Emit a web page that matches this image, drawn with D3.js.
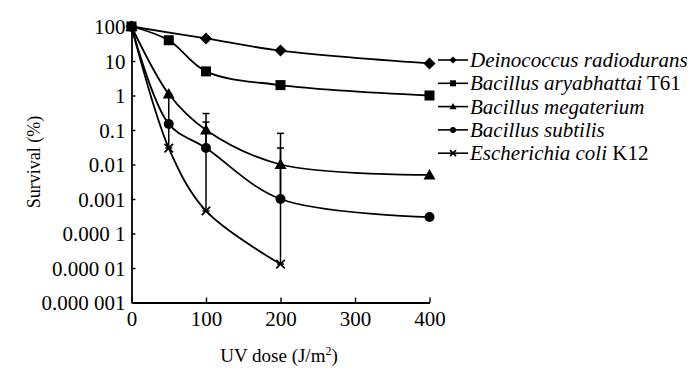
<!DOCTYPE html>
<html>
<head>
<meta charset="utf-8">
<script src="https://cdn.jsdelivr.net/npm/d3@7"></script>
<style>
  body { margin: 0; background: #fff; }
  text { font-family: "Liberation Serif", "Times New Roman", serif; fill: #000; }
</style>
</head>
<body>
<div id="chart"></div>
<script>
var width = 700,
    height = 375;

// data
var doses = [0, 50, 100, 200, 400];
var names = ["Deinococcus radiodurans", "Bacillus aryabhattai", "Bacillus megaterium", "Bacillus subtilis", "Escherichia coli"];
var suffixes = ["", " T61", "", "", " K12"];
var symbols = ["diamond", "square", "triangle", "circle", "cross"];
var deinococcus = [100, null, 45, 20, 8.5];
var aryabhattai = [100, 40, 5, 2, 1];
var megaterium = [100, 1.1, 0.1, 0.01, 0.005];
var subtilis = [100, 0.15, 0.03, 0.001, 0.0003];
var ecoli = [100, 0.03, 0.00045, 0.000013, null];
var seriesValues = [deinococcus, aryabhattai, megaterium, subtilis, ecoli];

// error bars: [dose, low, high]
var errMegaterium = [[50, 0.15, 1.1], [100, 0.00045, 0.3], [200, 0.000013, 0.08]];
var errSubtilis = [[50, 0.03, 0.15], [100, 0.03, 0.17], [200, 0.001, 0.03]];

var yTicks = [100, 10, 1, 0.1, 0.01, 0.001, 0.0001, 0.00001, 0.000001];
var yTickLabels = ["100", "10", "1", "0.1", "0.01", "0.001", "0.000 1", "0.000 01", "0.000 001"];
var xTicks = [0, 100, 200, 300, 400];

var fontSize = "21px";

var x = d3.scaleLinear().domain([0, 400]).range([131.5, 429.5]);
var y = d3.scaleLog().domain([0.000001, 100]).range([302.5, 26.5]);

var svg = d3.select("#chart").append("svg")
    .attr("width", width)
    .attr("height", height);

// axes
var xAxis = d3.axisBottom(x).tickValues(xTicks).tickSizeInner(-5).tickSizeOuter(0).tickPadding(9);
var gx = svg.append("g")
    .attr("transform", "translate(0," + y(0.000001) + ")")
    .call(xAxis);

var yAxis = d3.axisLeft(y).tickValues(yTicks)
    .tickFormat(function(d, i) { return yTickLabels[i]; })
    .tickSizeInner(-4).tickSizeOuter(0).tickPadding(6);
var gy = svg.append("g")
    .attr("transform", "translate(" + x(0) + ",0)")
    .call(yAxis);

[gx, gy].forEach(function(g) {
  g.select(".domain").attr("stroke", "#000").attr("stroke-width", 1.8);
  g.selectAll(".tick line").attr("stroke", "#000").attr("stroke-width", 1.4);
  g.selectAll(".tick text")
    .style("font-family", "'Liberation Serif', serif")
    .style("font-size", fontSize)
    .attr("fill", "#000");
});
gy.selectAll(".tick text").attr("dy", "0.34em");

// axis titles
svg.append("text")
    .attr("x", 279)
    .attr("y", 362)
    .attr("text-anchor", "middle")
    .style("font-size", "19px")
    .html("UV dose (J/m<tspan dy='-7' font-size='12px'>2</tspan><tspan dy='7'>)</tspan>");

svg.append("text")
    .attr("transform", "translate(40,162) rotate(-90)")
    .attr("text-anchor", "middle")
    .style("font-size", "18px")
    .text("Survival (%)");

// error bars
function drawErrors(errs) {
  errs.forEach(function(e) {
    svg.append("line")
      .attr("x1", x(e[0])).attr("x2", x(e[0]))
      .attr("y1", y(e[1])).attr("y2", y(e[2]))
      .attr("stroke", "#000").attr("stroke-width", 1.5);
    [e[1], e[2]].forEach(function(v) {
      svg.append("line")
        .attr("x1", x(e[0]) - 3.5).attr("x2", x(e[0]) + 3.5)
        .attr("y1", y(v)).attr("y2", y(v))
        .attr("stroke", "#000").attr("stroke-width", 1.5);
    });
  });
}
drawErrors(errMegaterium);
drawErrors(errSubtilis);

// lines
var line = d3.line()
    .x(function(d) { return x(d[0]); })
    .y(function(d) { return y(d[1]); })
    .curve(d3.curveCatmullRom.alpha(0.5));

function points(vals) {
  var pts = [];
  vals.forEach(function(v, i) { if (v != null) pts.push([doses[i], v]); });
  return pts;
}

seriesValues.forEach(function(vals) {
  svg.append("path")
    .attr("d", line(points(vals)))
    .attr("fill", "none")
    .attr("stroke", "#000")
    .attr("stroke-width", 1.8);
});

// markers
function marker(g, type, cx, cy, s) {
  if (type === "diamond") {
    g.append("path").attr("d", "M" + cx + "," + (cy - s * 0.6) + "L" + (cx + s * 0.6) + "," + cy +
      "L" + cx + "," + (cy + s * 0.6) + "L" + (cx - s * 0.6) + "," + cy + "Z").attr("fill", "#000");
  } else if (type === "square") {
    g.append("rect").attr("x", cx - s / 2).attr("y", cy - s / 2).attr("width", s).attr("height", s).attr("fill", "#000");
  } else if (type === "triangle") {
    g.append("path").attr("d", "M" + cx + "," + (cy - s * 0.6) + "L" + (cx + s * 0.6) + "," + (cy + s * 0.45) +
      "L" + (cx - s * 0.6) + "," + (cy + s * 0.45) + "Z").attr("fill", "#000");
  } else if (type === "circle") {
    g.append("circle").attr("cx", cx).attr("cy", cy).attr("r", s / 2).attr("fill", "#000");
  } else {
    var h = s / 2;
    g.append("path").attr("d", "M" + (cx - h) + "," + (cy - h) + "L" + (cx + h) + "," + (cy + h) +
      "M" + (cx - h) + "," + (cy + h) + "L" + (cx + h) + "," + (cy - h))
      .attr("stroke", "#000").attr("stroke-width", 1.7).attr("fill", "none");
  }
}

var markG = svg.append("g");
seriesValues.forEach(function(vals, si) {
  points(vals).forEach(function(p) {
    marker(markG, symbols[si], x(p[0]), y(p[1]), symbols[si] === "cross" ? 8.5 : 10);
  });
});

// legend
var legend = svg.append("g");
names.forEach(function(n, i) {
  var ly = 60 + i * 23.3;
  legend.append("line")
    .attr("x1", 438).attr("x2", 468)
    .attr("y1", ly).attr("y2", ly)
    .attr("stroke", "#000").attr("stroke-width", 1.6);
  marker(legend, symbols[i], 453, ly, 6);
  var t = legend.append("text")
    .attr("x", 470)
    .attr("y", ly + 7)
    .style("font-size", fontSize);
  t.append("tspan").style("font-style", "italic").text(n);
  if (suffixes[i]) t.append("tspan").text(suffixes[i]);
});
</script>
</body>
</html>
